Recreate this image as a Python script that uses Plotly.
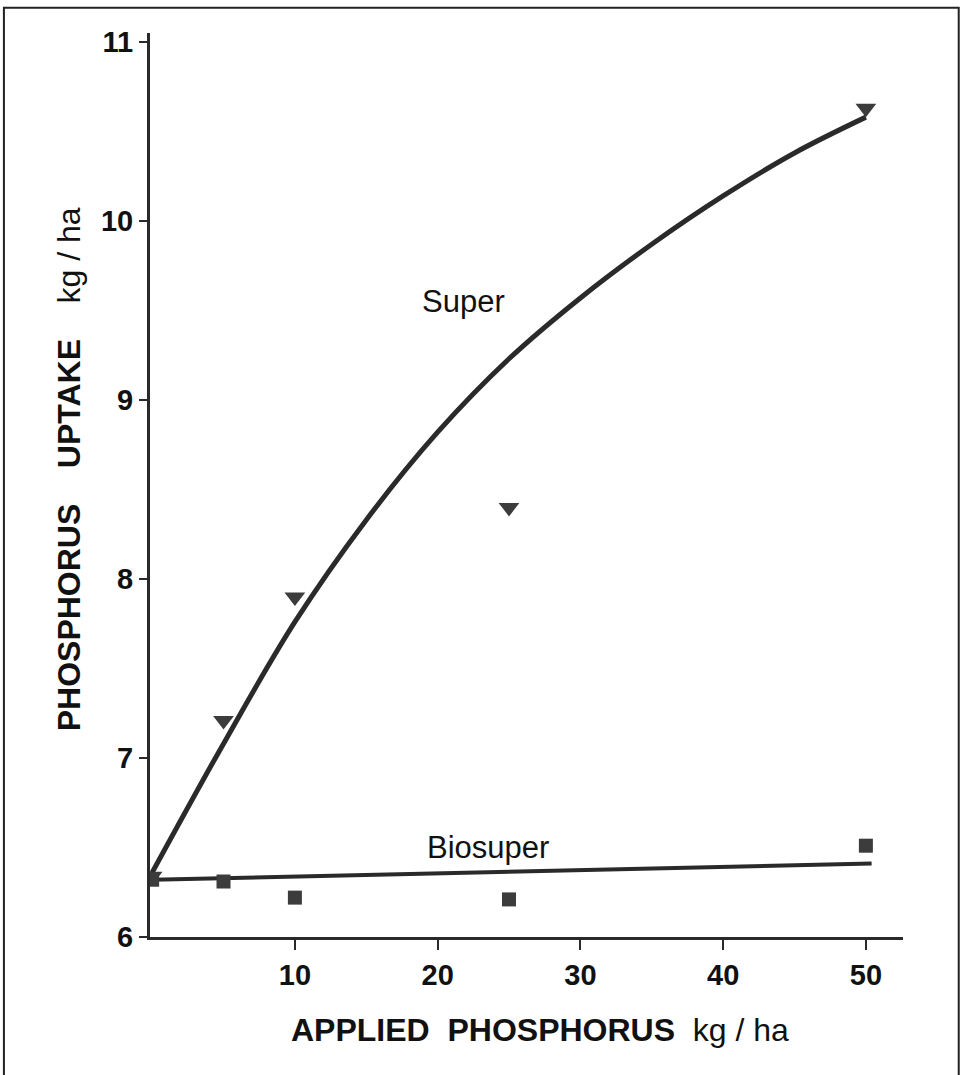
import plotly.graph_objects as go

# Observed data
applied = [0, 5, 10, 25, 50]
super_obs = [6.34, 7.21, 7.90, 8.40, 10.63]
biosuper_obs = [6.32, 6.31, 6.22, 6.21, 6.51]

# Fitted curves
super_fit_x = [0, 5, 10, 15, 20, 25, 30, 35, 40, 45, 50]
super_fit_y = [6.36, 7.08, 7.76, 8.33, 8.82, 9.23, 9.57, 9.87, 10.14, 10.38, 10.58]
bio_fit_x = [0, 50.4]
bio_fit_y = [6.32, 6.41]

x_ticks = [10, 20, 30, 40, 50]
y_ticks = [6, 7, 8, 9, 10, 11]

INK = "#2a2a2a"
MARK = "#3c3c3c"
FONT = "Liberation Sans, Arial"

fig = go.Figure()
fig.add_trace(go.Scatter(x=super_fit_x, y=super_fit_y, mode="lines",
                         line=dict(color=INK, width=5, shape="spline", smoothing=1.0),
                         showlegend=False, hoverinfo="skip"))
fig.add_trace(go.Scatter(x=bio_fit_x, y=bio_fit_y, mode="lines",
                         line=dict(color=INK, width=4),
                         showlegend=False, hoverinfo="skip"))
fig.add_trace(go.Scatter(x=applied, y=super_obs, mode="markers", name="Super",
                         marker=dict(symbol="triangle-down", size=18, color=MARK),
                         showlegend=False))
fig.add_trace(go.Scatter(x=applied, y=biosuper_obs, mode="markers", name="Biosuper",
                         marker=dict(symbol="square", size=14, color=MARK),
                         showlegend=False))

fig.add_annotation(x=21.8, y=9.55, text="Super", showarrow=False,
                   font=dict(family=FONT, size=31, color="#111"))
fig.add_annotation(x=23.5, y=6.50, text="Biosuper", showarrow=False,
                   font=dict(family=FONT, size=31, color="#111"))

# Axis titles
fig.add_annotation(xref="paper", yref="paper", x=0.518, y=-0.103,
                   text="<b>APPLIED  PHOSPHORUS</b>  kg / ha", showarrow=False,
                   xanchor="center", yanchor="middle",
                   font=dict(family=FONT, size=32, color="#111"))
fig.add_annotation(xref="paper", yref="paper", x=-0.108, y=0.517,
                   text="<b>PHOSPHORUS    UPTAKE</b>    kg / ha", showarrow=False,
                   textangle=-90, xanchor="center", yanchor="middle",
                   font=dict(family=FONT, size=32, color="#111"))

# Frame around the whole figure
fig.add_shape(type="rect", xref="paper", yref="paper",
              x0=-0.194, x1=1.074, y0=-0.16, y1=1.028,
              line=dict(color="#222", width=2), fillcolor="rgba(0,0,0,0)")

fig.update_xaxes(range=[-0.15, 52.6], tickvals=x_ticks, ticktext=[str(v) for v in x_ticks],
                 showgrid=False, zeroline=False, showline=True, linecolor=INK, linewidth=3,
                 ticks="outside", ticklen=10, tickwidth=2, tickcolor=INK,
                 tickfont=dict(family=FONT, size=29, color="#111", weight="bold"))
fig.update_yaxes(range=[6, 11.05], tickvals=y_ticks, ticktext=[str(v) for v in y_ticks],
                 showgrid=False, zeroline=False, showline=True, linecolor=INK, linewidth=3,
                 ticks="outside", ticklen=8, tickwidth=2, tickcolor=INK,
                 tickfont=dict(family=FONT, size=29, color="#111", weight="bold"))

fig.update_layout(width=962, height=1075,
                  margin=dict(l=150, r=59, t=33, b=138),
                  paper_bgcolor="white", plot_bgcolor="white")

fig.write_html("out.html", config={"displayModeBar": False},
               post_script="document.body.style.margin='0';")
